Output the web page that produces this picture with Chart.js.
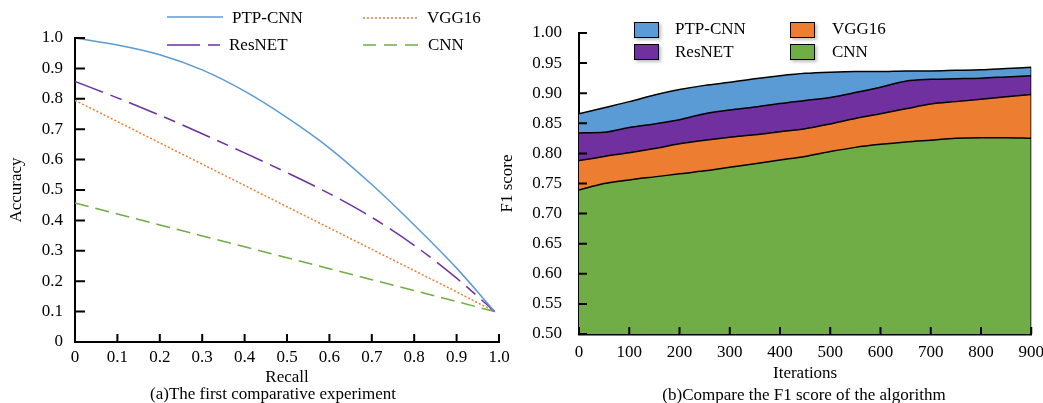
<!DOCTYPE html>
<html>
<head>
<meta charset="utf-8">
<script src="https://cdn.jsdelivr.net/npm/chart.js@4.4.1/dist/chart.umd.min.js"></script>
<style>
  body { margin: 0; background: #fff; }
  #wrap { position: relative; width: 1043px; height: 403px; overflow: hidden; font-family: "Liberation Serif", "Times New Roman", serif; }
  canvas { position: absolute; top: 0; }
  #leftChart { left: 0; }
  #rightChart { left: 490px; }
  .lab { position: absolute; font-size: 17px; line-height: 16px; white-space: nowrap; color: #000; }
  .swatch { position: absolute; width: 25px; height: 16px; border: 1.5px solid #000; box-sizing: border-box; box-shadow: 2px 2px 3px rgba(0,0,0,0.25); }
  .key { position: absolute; }
  .cap { position: absolute; font-size: 17px; line-height: 16px; text-align: center; white-space: nowrap; }
</style>
</head>
<body>
<div id="wrap">
  <canvas id="leftChart" width="520" height="403"></canvas>
  <canvas id="rightChart" width="562" height="403"></canvas>

  <!-- legend (a) -->
  <svg class="key" style="left:166px;top:10px" width="60" height="40">
    <line x1="1" y1="7" x2="57" y2="7" stroke="#5B9BD5" stroke-width="1.5"/>
    <line x1="1" y1="35" x2="56" y2="35" stroke="#7030A0" stroke-width="1.5" stroke-dasharray="33 8 12 8"/>
  </svg>
  <svg class="key" style="left:362px;top:10px" width="60" height="40">
    <line x1="1" y1="8" x2="57" y2="8" stroke="#ED7D31" stroke-width="1.5" stroke-dasharray="2 2"/>
    <line x1="1" y1="35" x2="57" y2="35" stroke="#70AD47" stroke-width="1.5" stroke-dasharray="13 8"/>
  </svg>
  <div class="lab" style="left:232px;top:10px">PTP-CNN</div>
  <div class="lab" style="left:427px;top:10px">VGG16</div>
  <div class="lab" style="left:229px;top:37px">ResNET</div>
  <div class="lab" style="left:428px;top:37px">CNN</div>

  <!-- legend (b) -->
  <div class="swatch" style="left:634px;top:22px;background:#5B9BD5"></div>
  <div class="swatch" style="left:790px;top:22px;background:#ED7D31"></div>
  <div class="swatch" style="left:634px;top:44px;background:#7030A0"></div>
  <div class="swatch" style="left:790px;top:44px;background:#70AD47"></div>
  <div class="lab" style="left:675px;top:21px">PTP-CNN</div>
  <div class="lab" style="left:832px;top:21px">VGG16</div>
  <div class="lab" style="left:675px;top:44px">ResNET</div>
  <div class="lab" style="left:832px;top:44px">CNN</div>

  <div class="cap" style="left:73px;width:400px;top:386px">(a)The first comparative experiment</div>
  <div class="cap" style="left:604px;width:400px;top:387px">(b)Compare the F1 score of the algorithm</div>
</div>

<script>
// --- Data: (a) accuracy vs recall ---
const recall = [0, 0.1, 0.2, 0.3, 0.4, 0.5, 0.6, 0.7, 0.8, 0.9, 0.99];
const accPtpCnn = [1.0, 0.977, 0.945, 0.895, 0.825, 0.738, 0.638, 0.518, 0.385, 0.243, 0.1];
const accVgg16 = [0.795, 0.725, 0.655, 0.585, 0.515, 0.445, 0.375, 0.305, 0.235, 0.165, 0.1];
const accResNet = [0.857, 0.803, 0.746, 0.685, 0.622, 0.557, 0.488, 0.41, 0.318, 0.21, 0.1];
const accCnn = [0.457, 0.421, 0.385, 0.349, 0.313, 0.277, 0.241, 0.205, 0.169, 0.133, 0.1];

// --- Data: (b) F1 score vs iterations ---
const iterations = [0, 50, 100, 150, 200, 250, 300, 350, 400, 450, 500, 550, 600, 650, 700, 750, 800, 850, 900];
const f1PtpCnn = [0.866, 0.876, 0.886, 0.897, 0.906, 0.913, 0.918, 0.924, 0.929, 0.933, 0.935, 0.936, 0.936, 0.937, 0.937, 0.938, 0.939, 0.941, 0.943];
const f1ResNet = [0.834, 0.835, 0.843, 0.849, 0.856, 0.866, 0.872, 0.877, 0.883, 0.888, 0.893, 0.901, 0.910, 0.920, 0.923, 0.924, 0.925, 0.927, 0.929];
const f1Vgg16 = [0.788, 0.795, 0.801, 0.808, 0.816, 0.822, 0.827, 0.831, 0.836, 0.841, 0.849, 0.858, 0.866, 0.874, 0.882, 0.886, 0.890, 0.894, 0.898];
const f1Cnn = [0.739, 0.750, 0.756, 0.761, 0.766, 0.771, 0.777, 0.783, 0.789, 0.795, 0.803, 0.810, 0.815, 0.819, 0.822, 0.825, 0.826, 0.826, 0.825];

const COLORS = { blue: "#5B9BD5", orange: "#ED7D31", purple: "#7030A0", green: "#70AD47" };
const FONT = { family: '"Liberation Serif", "Times New Roman", serif', size: 17 };

Chart.defaults.font.family = FONT.family;
Chart.defaults.font.size = FONT.size;
Chart.defaults.color = "#000";

const toPoints = (xs, ys) => xs.map((x, i) => ({ x, y: ys[i] }));

// ticks pointing into the plot area
const inwardTicks = {
  id: "inwardTicks",
  afterDraw(chart, args, opts) {
    const { ctx, chartArea } = chart;
    const sx = chart.scales.x, sy = chart.scales.y;
    ctx.save();
    ctx.strokeStyle = "#000";
    ctx.lineWidth = 2;
    ctx.beginPath();
    sx.ticks.forEach((t, i) => {
      const px = sx.getPixelForTick(i);
      ctx.moveTo(px, chartArea.bottom);
      ctx.lineTo(px, chartArea.bottom - opts.xLen);
    });
    sy.ticks.forEach((t, i) => {
      const py = sy.getPixelForTick(i);
      ctx.moveTo(chartArea.left, py);
      ctx.lineTo(chartArea.left + opts.yLen, py);
    });
    ctx.stroke();
    ctx.restore();
  }
};

const oneDecimal = (v) => (Math.abs(v) < 1e-9 ? "0" : Number(v).toFixed(1));

function lineSet(label, ys, color, dash, smooth) {
  return {
    label,
    data: toPoints(recall, ys),
    borderColor: color,
    borderWidth: 1.5,
    borderDash: dash,
    pointRadius: 0,
    fill: false,
    cubicInterpolationMode: smooth ? "monotone" : "default",
    tension: 0
  };
}

new Chart(document.getElementById("leftChart"), {
  type: "line",
  data: {
    datasets: [
      lineSet("PTP-CNN", accPtpCnn, COLORS.blue, [], true),
      lineSet("ResNET", accResNet, COLORS.purple, [30, 8, 12, 8], true),
      lineSet("VGG16", accVgg16, COLORS.orange, [2, 2], false),
      lineSet("CNN", accCnn, COLORS.green, [14, 7], false)
    ]
  },
  options: {
    responsive: false,
    animation: false,
    layout: { padding: { left: 0, right: 21, top: 38, bottom: 15 } },
    plugins: { legend: { display: false }, tooltip: { enabled: false }, inwardTicks: { xLen: 8, yLen: 10 } },
    scales: {
      x: {
        type: "linear", min: 0, max: 1,
        grid: { display: false, drawTicks: false },
        border: { display: true, color: "#000", width: 2 },
        ticks: { stepSize: 0.1, padding: 5, autoSkip: false, maxRotation: 0, callback: oneDecimal },
        title: { display: true, text: "Recall", padding: 0 },
        afterFit: (s) => { s.height = 46; }
      },
      y: {
        min: 0, max: 1,
        grid: { display: false, drawTicks: false },
        border: { display: true, color: "#000", width: 2 },
        ticks: { stepSize: 0.1, padding: 12, callback: oneDecimal },
        title: { display: true, text: "Accuracy", padding: { top: 6, bottom: 0 } },
        afterFit: (s) => { s.width = 75; }
      }
    }
  },
  plugins: [inwardTicks]
});

function areaSet(label, ys, color) {
  return {
    label,
    data: toPoints(iterations, ys),
    borderColor: "#000",
    borderWidth: 1.5,
    backgroundColor: color,
    pointRadius: 0,
    fill: "start",
    cubicInterpolationMode: "monotone"
  };
}

new Chart(document.getElementById("rightChart"), {
  type: "line",
  data: {
    datasets: [
      {
        label: "edge",
        data: [{ x: iterations[iterations.length - 1], y: 0.5 }, { x: iterations[iterations.length - 1], y: f1PtpCnn[f1PtpCnn.length - 1] }],
        borderColor: "#000", borderWidth: 1.5, pointRadius: 0, fill: false
      },
      areaSet("CNN", f1Cnn, COLORS.green),
      areaSet("VGG16", f1Vgg16, COLORS.orange),
      areaSet("ResNET", f1ResNet, COLORS.purple),
      areaSet("PTP-CNN", f1PtpCnn, COLORS.blue)
    ]
  },
  options: {
    responsive: false,
    animation: false,
    layout: { padding: { left: 0, right: 5, top: 33, bottom: 19 } },
    plugins: { legend: { display: false }, tooltip: { enabled: false }, inwardTicks: { xLen: 7, yLen: 8 } },
    scales: {
      x: {
        type: "linear", min: 0, max: 900, z: 1,
        grid: { display: false, drawTicks: false },
        border: { display: true, color: "#000", width: 2.5 },
        ticks: { stepSize: 100, padding: 8, autoSkip: false, maxRotation: 0 },
        title: { display: true, text: "Iterations", padding: 0 },
        afterFit: (s) => { s.height = 50; }
      },
      y: {
        min: 0.5, max: 1, z: 1,
        grid: { display: false, drawTicks: false },
        border: { display: true, color: "#000", width: 2 },
        ticks: { stepSize: 0.05, padding: 17, callback: (v) => Number(v).toFixed(2) },
        title: { display: true, text: "F1 score", padding: { top: 7, bottom: 0 } },
        afterFit: (s) => { s.width = 89; }
      }
    }
  },
  plugins: [inwardTicks]
});
</script>
</body>
</html>
